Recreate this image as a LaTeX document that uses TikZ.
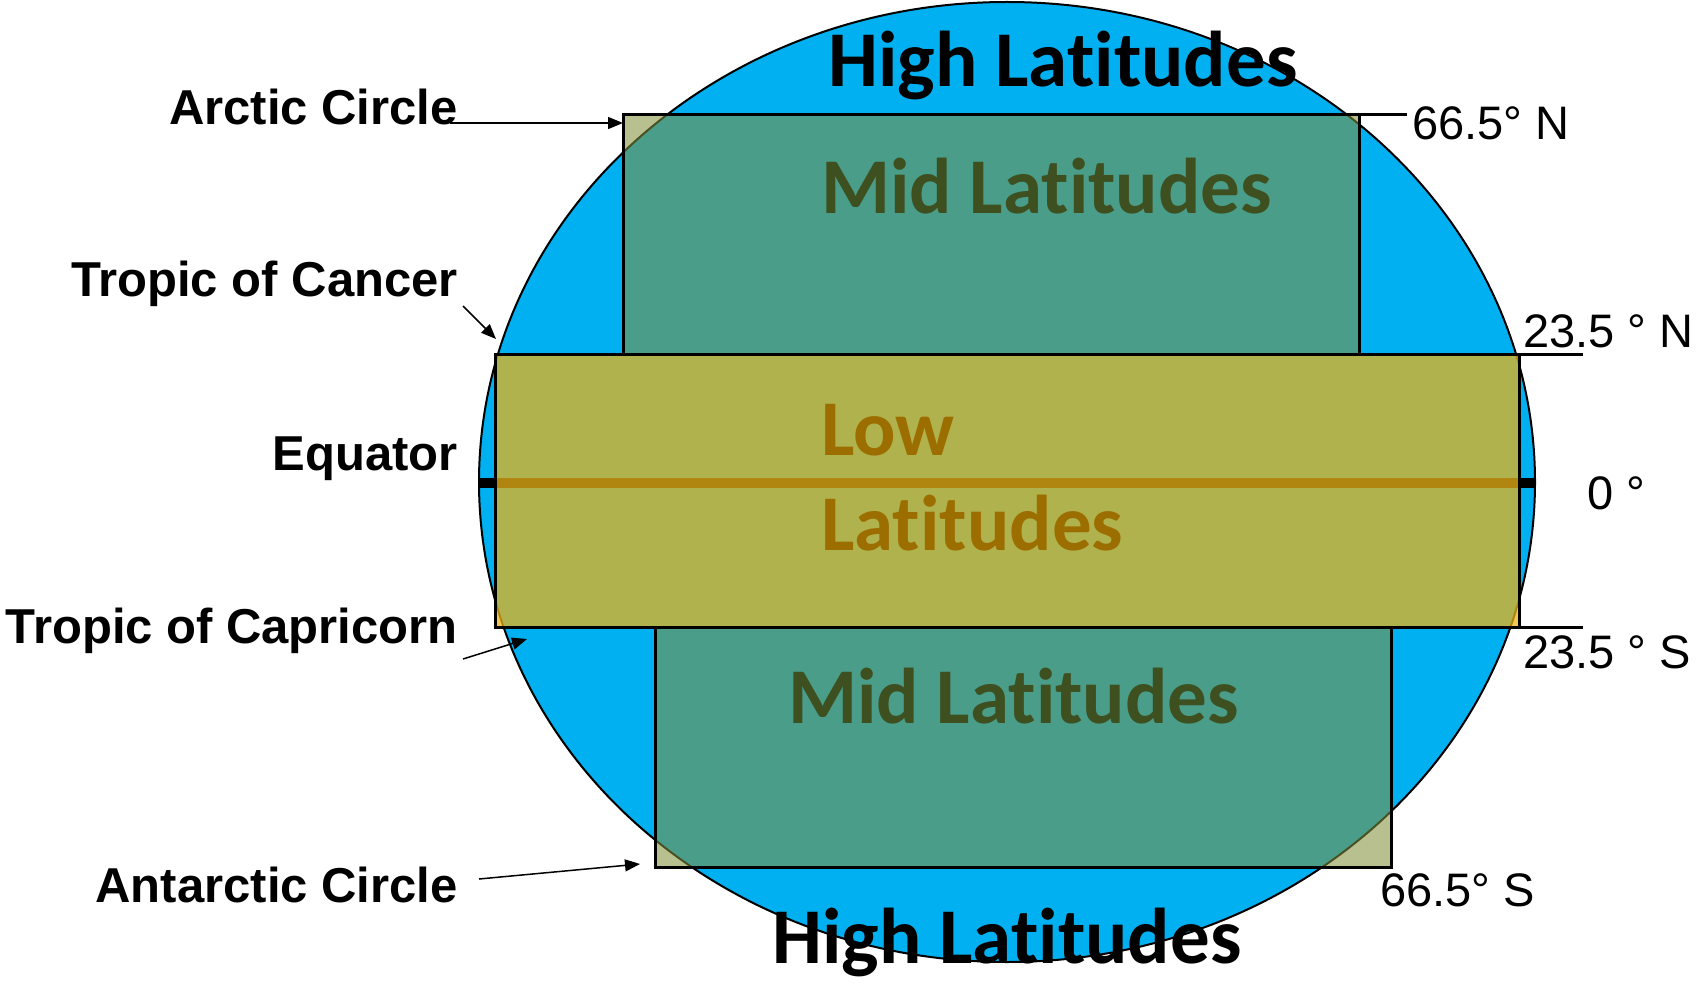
\documentclass[tikz,border=0pt]{standalone}
\usepackage{fontspec}
\setmainfont{Liberation Sans}
\newfontfamily\calfont{Carlito}[Ligatures={NoCommon}]
\usetikzlibrary{arrows.meta}
\definecolor{sea}{RGB}{0,176,240}
\definecolor{midc}{RGB}{131,144,59}
\definecolor{lowc}{RGB}{238,180,22}
\definecolor{midtext}{RGB}{62,80,32}
\definecolor{lowtext}{RGB}{156,110,0}
\tikzset{
  big/.style={font=\calfont\bfseries\fontsize{79}{90}\selectfont, inner sep=0pt, anchor=base},
  lbl/.style={font=\bfseries\fontsize{49}{56}\selectfont, anchor=base east, inner sep=0pt},
  deg/.style={font=\fontsize{47}{52}\selectfont, anchor=base west, inner sep=0pt},
  arr/.style={-{Triangle[length=15pt,width=12pt]}, line width=1.5pt},
  midzone/.style={draw=black, line width=3pt, fill=midc, fill opacity=0.565},
  lowzone/.style={draw=black, line width=3pt, fill=lowc, fill opacity=0.74},
  tick/.style={line width=3pt}
}
\begin{document}
\begin{tikzpicture}[x=1pt,y=-1pt]
\useasboundingbox (0,0) rectangle (1698,984);
% globe
\filldraw[fill=sea, draw=black, line width=2pt] (1007,482) ellipse [x radius=528pt, y radius=480pt];
\coordinate (eqL) at (479,483);
\coordinate (eqR) at (1535,483);
\draw[line width=10pt] (eqL) -- (eqR);
% zones
\coordinate (m1a) at (623,115); \coordinate (m1b) at (1359,355);
\coordinate (lwa) at (495,355); \coordinate (lwb) at (1519,627);
\coordinate (m2a) at (655,627); \coordinate (m2b) at (1391,867);
\draw[midzone] (m1a) rectangle (m1b);
\draw[midzone] (m2a) rectangle (m2b);
\draw[lowzone] (lwa) rectangle (lwb);
% zone texts
\node[big] (hl1) at (1063,87) {High Latitudes};
\node[big] (hl2) at (1007,963) {High Latitudes};
\node[big, text=midtext, anchor=base west] (ml1) at (821,214) {Mid Latitudes};
\node[big, text=midtext, anchor=base west] (ml2) at (788,723) {Mid Latitudes};
\node[big, text=lowtext, anchor=base west] (low1) at (821,455) {Low};
\node[big, text=lowtext, anchor=base west] (low2) at (821,550) {Latitudes};
% latitude ticks
\coordinate (t66na) at (1359,115); \coordinate (t66n) at (1407,115);
\coordinate (t23na) at (1519,355); \coordinate (t23n) at (1583,355);
\coordinate (t23sa) at (1519,627); \coordinate (t23s) at (1583,627);
\draw[tick] (t66na) -- (t66n);
\draw[tick] (t23na) -- (t23n);
\draw[tick] (t23sa) -- (t23s);
% degree labels
\node[deg] (d66n) at (1412,140) {66.5° N};
\node[deg] (d23n) at (1523,348) {23.5 ° N};
\node[deg] (d0) at (1587,509) {0 °};
\node[deg] (d23s) at (1523,668) {23.5 ° S};
\node[deg] (d66s) at (1380,906) {66.5° S};
% left labels
\node[lbl] (arctic) at (458,125) {Arctic Circle};
\node[lbl] (cancer) at (458,297) {Tropic of Cancer};
\node[lbl] (equator) at (458,470) {Equator};
\node[lbl] (capri) at (458,643) {Tropic of Capricorn};
\node[lbl] (antarc) at (458,902) {Antarctic Circle};
% arrows
\coordinate (a1s) at (450,123); \coordinate (a1e) at (623,123);
\coordinate (a2s) at (463,306); \coordinate (a2e) at (496,339);
\coordinate (a3s) at (463,659); \coordinate (a3e) at (527,639);
\coordinate (a4s) at (479,879); \coordinate (a4e) at (640,864);
\draw[arr] (a1s) -- (a1e);
\draw[arr] (a2s) -- (a2e);
\draw[arr] (a3s) -- (a3e);
\draw[arr] (a4s) -- (a4e);
\end{tikzpicture}
\end{document}
